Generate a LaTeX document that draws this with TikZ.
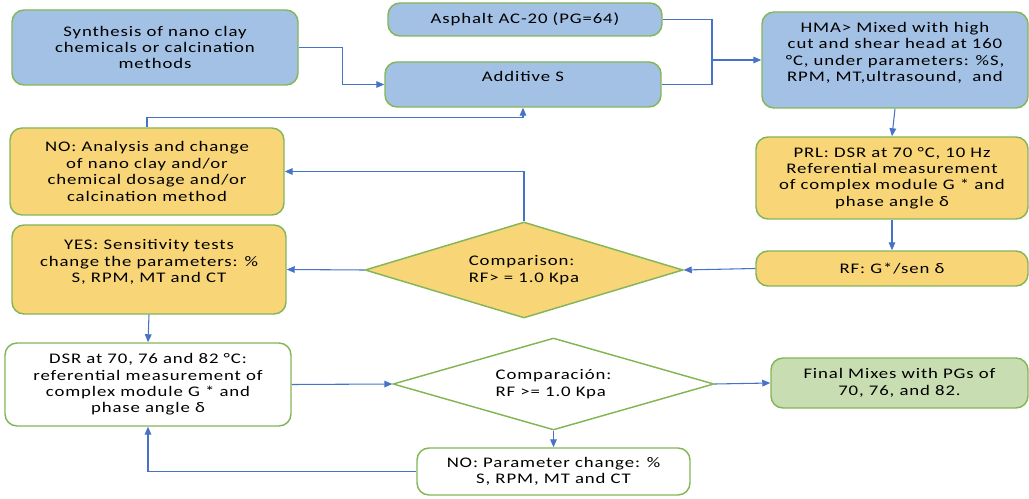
\documentclass[tikz,border=0pt]{standalone}
\usepackage{fontspec}
\setmainfont{Carlito}[FakeStretch=1.28,LetterSpace=6]
\definecolor{boxblue}{RGB}{163,193,228}
\definecolor{boxyellow}{RGB}{248,214,120}
\definecolor{boxgreen}{RGB}{200,222,178}
\definecolor{edgegreen}{RGB}{132,182,88}
\definecolor{linkblue}{RGB}{70,115,198}
\usepackage{tikz}
\usetikzlibrary{
    arrows.meta,
    shapes.geometric,
    positioning
}
\tikzstyle{stage} = [
    rectangle,
    rounded corners=9pt,
    draw=edgegreen,
    line width=1.1pt,
    fill=boxblue,
    align=center,
    inner sep=2pt,
    font=\fontsize{11}{12.3}\selectfont
]
\tikzstyle{check} = [
    stage,
    fill=boxyellow
]
\tikzstyle{plainstage} = [
    stage,
    fill=white
]
\tikzstyle{finalbox} = [
    stage,
    fill=boxgreen
]
\tikzstyle{decision} = [
    diamond,
    aspect=3.4,
    draw=edgegreen,
    line width=1.1pt,
    align=left,
    inner sep=1pt,
    font=\fontsize{11}{12.3}\selectfont
]
\tikzstyle{line} = [
    draw=linkblue,
    line width=0.8pt
]
\tikzstyle{arrow} = [
    line,
    -{Triangle[length=6pt,width=5pt]}
]

\begin{document}
\begin{tikzpicture}[x=0.75pt, y=-0.75pt]
    \useasboundingbox (0,0) rectangle (1029,499);

    % Top row
    \node[stage, minimum width=214.5pt, minimum height=56.25pt] (synthesis) at (155,47.5) {Synthesis of nano clay\\chemicals or calcination\\methods};
    \node[stage, minimum width=205.5pt, minimum height=24.75pt] (asphalt) at (525,19.5) {Asphalt AC-20 (PG=64)};
    \node[stage, minimum width=207pt, minimum height=33.75pt] (additive) at (523,84.5) {Additive S\\ \mbox{}};
    \node[stage, minimum width=199.5pt, minimum height=72pt] (hma) at (895,60) {HMA> Mixed with high\\cut and shear head at 160\\°C, under parameters: \%S,\\RPM, MT,ultrasound,~ and\\ \mbox{}};

    % Right column
    \node[check, minimum width=204pt, minimum height=61.5pt] (prl) at (892,178) {PRL: DSR at 70 °C, 10 Hz\\Referential measurement\\of complex module G * and\\phase angle δ};
    \node[check, minimum width=204pt, minimum height=26.25pt] (rf) at (892,268.5) {RF: G*/sen δ};

    % First comparison
    \node[decision, fill=boxyellow, minimum width=238.5pt, minimum height=72pt] (comparison) at (524,270) {Comparison:\\RF> = 1.0 Kpa};
    \node[check, minimum width=205.5pt, minimum height=65.25pt] (noanalysis) at (147,171.5) {NO: Analysis and change\\of nano clay and/or\\chemical dosage and/or\\calcination method};
    \node[check, minimum width=205.5pt, minimum height=66.75pt] (yestests) at (149,269.5) {YES: Sensitivity tests\\change the parameters: \%\\S, RPM, MT and CT\\ \mbox{}};

    % Second comparison
    \node[plainstage, minimum width=214.5pt, minimum height=62.25pt] (dsr) at (148,384.5) {DSR at 70, 76 and 82 °C:\\referential measurement of\\complex module G * and\\phase angle δ};
    \node[decision, fill=white, minimum width=240.75pt, minimum height=69pt] (comparacion) at (553.5,384) {Comparación:\\RF >= 1.0 Kpa};
    \node[finalbox, minimum width=192.75pt, minimum height=37.5pt] (finalmix) at (899.5,383) {Final Mixes with PGs of\\70, 76, and 82.};
    \node[plainstage, minimum width=204.75pt, minimum height=35.25pt] (noparam) at (553.5,471.5) {NO: Parameter change: \%\\S, RPM, MT and CT};

    % Connectors
    \coordinate (join) at (712,60);
    \draw[arrow] (synthesis.east) -- ++(44,0) |- (additive.west);
    \draw[line] (asphalt.east) -| (join) |- (additive.east);
    \draw[arrow] (join) -- (hma.west);
    \draw[arrow] (hma.south) -- (prl.north);
    \draw[arrow] (prl.south) -- (rf.north);
    \draw[arrow] (rf.west) -- (comparison.east);
    \draw[arrow] (comparison.north) |- (noanalysis.east);
    \draw[arrow] (noanalysis.north) -- ++(0,-10) -| (additive.south);
    \draw[arrow] (comparison.west) -- (yestests.east);
    \draw[arrow] (yestests.south) -- (dsr.north);
    \draw[arrow] (dsr.east) -- (comparacion.west);
    \draw[arrow] (comparacion.east) -- (finalmix.west);
    \draw[arrow] (comparacion.south) -- (noparam.north);
    \draw[arrow] (noparam.west) -| (dsr.south);
\end{tikzpicture}
\end{document}
